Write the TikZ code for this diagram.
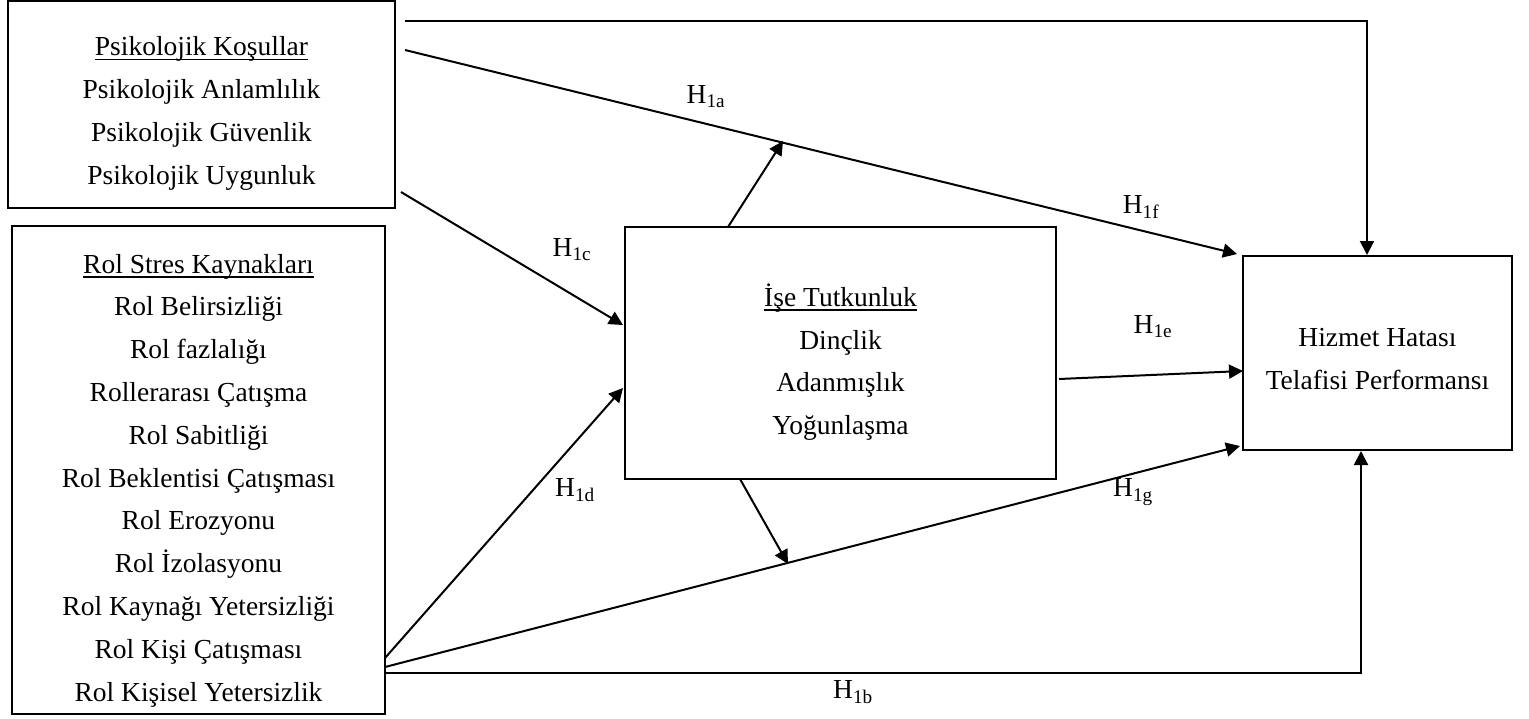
\documentclass[tikz,border=0pt]{standalone}
\usepackage{fontspec}
\setmainfont{Liberation Serif}
\usetikzlibrary{arrows.meta}
\newcommand\myul[1]{\setbox0\hbox{#1}\rlap{\rule[-4.5pt]{\wd0}{1.6pt}}\box0}
\tikzset{
  box/.style={draw, line width=2pt, inner sep=0pt},
  txt/.style={inner sep=0pt, align=center, font=\fontsize{27.5}{42.8}\selectfont,
    execute at begin node=\strut, execute at end node=\strut},
  hyp/.style={inner sep=0pt, font=\fontsize{27.5}{30}\selectfont},
  arr/.style={line width=2pt, -{Triangle[length=14pt,width=14pt]}},
}
\begin{document}
\begin{tikzpicture}[x=1pt,y=-1pt]
\useasboundingbox (0,0) rectangle (1529,718);
% boxes
\node[box, minimum width=387pt, minimum height=207pt] (pk) at (201.5,104.5) {};
\node[txt] (pkt) at (201.5,117) {\myul{Psikolojik Koşullar}\\Psikolojik Anlamlılık\\Psikolojik Güvenlik\\Psikolojik Uygunluk};
\node[box, minimum width=373pt, minimum height=488pt] (rs) at (198.5,470) {};
\node[txt] (rst) at (198.5,484) {\myul{Rol Stres Kaynakları}\\Rol Belirsizliği\\Rol fazlalığı\\Rollerarası Çatışma\\Rol Sabitliği\\Rol Beklentisi Çatışması\\Rol Erozyonu\\Rol İzolasyonu\\Rol Kaynağı Yetersizliği\\Rol Kişi Çatışması\\Rol Kişisel Yetersizlik};
\node[box, minimum width=431pt, minimum height=252pt] (it) at (840.5,353) {};
\node[txt] (itt) at (840.5,365.5) {\myul{İşe Tutkunluk}\\Dinçlik\\Adanmışlık\\Yoğunlaşma};
\node[box, minimum width=269pt, minimum height=194pt] (hh) at (1377.5,353) {};
\node[txt] (hht) at (1377.5,365) {Hizmet Hatası\\Telafisi Performansı};
% connector end points
\coordinate (a0) at (405,21);
\coordinate (a1) at (1367,21);
\coordinate (f0) at (405,50);
\coordinate (f1) at (1237,254);
\coordinate (m0) at (728,227);
\coordinate (m1) at (783,141);
\coordinate (c0) at (401,192);
\coordinate (c1) at (623,325);
\coordinate (d0) at (385,658);
\coordinate (d1) at (623,388);
\coordinate (g0) at (385,667);
\coordinate (g1) at (1240,446);
\coordinate (n0) at (740,479);
\coordinate (n1) at (788,564);
\coordinate (e0) at (1059,379);
\coordinate (e1) at (1243,371);
\coordinate (b0) at (385,673);
\coordinate (b1) at (1361,673);
% connectors
\draw[arr] (a0) -- (a1) -- (a1 |- hh.north);
\draw[arr] (f0) -- (f1);
\draw[arr] (m0) -- (m1);
\draw[arr] (c0) -- (c1);
\draw[arr] (d0) -- (d1);
\draw[arr] (g0) -- (g1);
\draw[arr] (n0) -- (n1);
\draw[arr] (e0) -- (e1);
\draw[arr] (b0) -- (b1) -- (b1 |- hh.south);
% labels
\node[hyp] (l1a) at (706,97) {H\textsubscript{1a}};
\node[hyp] (l1f) at (1141,207) {H\textsubscript{1f}};
\node[hyp] (l1c) at (572,250) {H\textsubscript{1c}};
\node[hyp] (l1e) at (1153,327) {H\textsubscript{1e}};
\node[hyp] (l1d) at (575,490) {H\textsubscript{1d}};
\node[hyp] (l1g) at (1133,492) {H\textsubscript{1g}};
\node[hyp] (l1b) at (853,692) {H\textsubscript{1b}};
\end{tikzpicture}
\end{document}
